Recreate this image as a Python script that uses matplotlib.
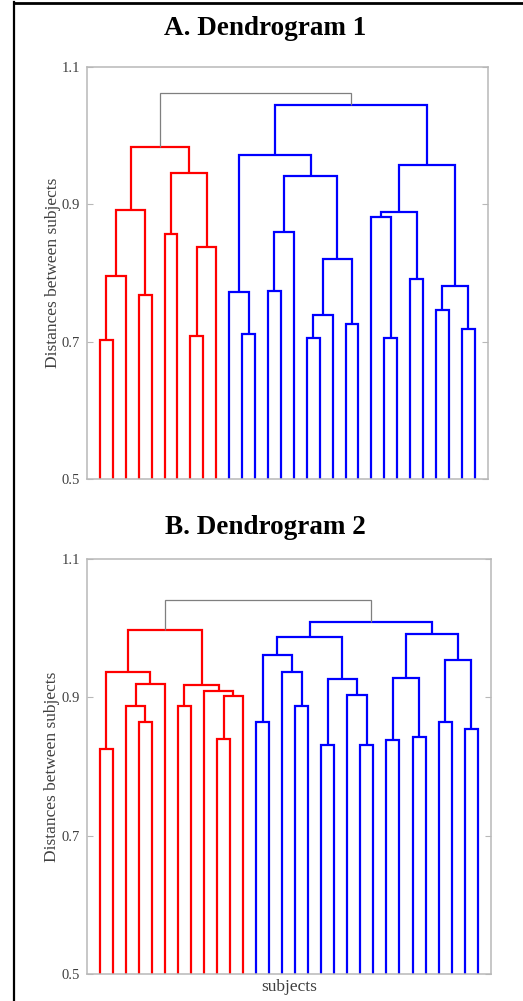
import matplotlib
matplotlib.use("Agg")
import matplotlib.pyplot as plt
from matplotlib.lines import Line2D

# ---------------- data ----------------
n_leaves = 30

# Dendrogram A: merge i creates node 30+i from (left, right) at height
a_left = [0, 30, 3, 31, 5, 7, 35, 34, 33, 11, 10, 13, 41, 16, 43, 19, 44, 42, 40,
          22, 21, 24, 50, 26, 28, 53, 52, 48, 38]
a_right = [1, 2, 4, 32, 6, 8, 9, 36, 37, 12, 39, 14, 15, 17, 18, 20, 45, 46, 47,
           23, 49, 25, 51, 27, 29, 54, 55, 56, 57]
a_height = [0.703, 0.795, 0.768, 0.892, 0.856, 0.708, 0.838, 0.946, 0.983,
            0.712, 0.772, 0.774, 0.860, 0.706, 0.739, 0.726, 0.820, 0.941, 0.971,
            0.706, 0.882, 0.792, 0.889, 0.746, 0.719, 0.781, 0.957, 1.044, 1.062]
a_n_red = 10

# Dendrogram B
b_left = [0, 3, 2, 32, 30, 6, 9, 36, 8, 35, 34, 12, 15, 14, 41, 17, 20, 19, 45,
          44, 22, 24, 50, 26, 28, 53, 52, 49, 40]
b_right = [1, 4, 31, 5, 33, 7, 10, 11, 37, 38, 39, 13, 16, 42, 43, 18, 21, 46, 47,
           48, 23, 25, 51, 27, 29, 54, 55, 56, 57]
b_height = [0.826, 0.864, 0.887, 0.919, 0.937, 0.887, 0.840, 0.902, 0.910, 0.918,
            0.998, 0.865, 0.887, 0.937, 0.961, 0.831, 0.831, 0.903, 0.926, 0.987,
            0.838, 0.843, 0.928, 0.865, 0.854, 0.954, 0.992, 1.009, 1.041]
b_n_red = 12

titles = ["A. Dendrogram 1", "B. Dendrogram 2"]
y_ticks = [0.5, 0.7, 0.9, 1.1]
y_tick_labels = ["0.5", "0.7", "0.9", "1.1"]
y_label = "Distances between subjects"
x_label = "subjects"

# ---------------- style ----------------
W, H = 523, 1001
SERIF = ["Liberation Serif", "DejaVu Serif"]
RED, BLUE, GRAY = "#ff0000", "#0000ff", "#7f7f7f"
SPINE = "#b8b8b8"
TXT = "#404040"

fig = plt.figure(figsize=(W / 100, H / 100), dpi=100)
fig.patch.set_facecolor("white")


def px_axes(left, top, right, bottom):
    return fig.add_axes([left / W, 1 - bottom / H, (right - left) / W, (bottom - top) / H])


def draw_dendro(ax, left, right, height, n_red):
    xs = {i: float(i + 1) for i in range(n_leaves)}
    ys = {i: 0.0 for i in range(n_leaves)}
    members = {i: {i} for i in range(n_leaves)}
    for k, (l, r, h) in enumerate(zip(left, right, height)):
        node = n_leaves + k
        xs[node] = (xs[l] + xs[r]) / 2
        ys[node] = h
        members[node] = members[l] | members[r]
        m = members[node]
        if max(m) < n_red:
            c, lw = RED, 1.6
        elif min(m) >= n_red:
            c, lw = BLUE, 1.6
        else:
            c, lw = GRAY, 0.9
        ax.plot([xs[l], xs[l], xs[r], xs[r]], [ys[l], h, h, ys[r]],
                color=c, lw=lw, solid_joinstyle="miter", solid_capstyle="butt", zorder=2)


def style_axes(ax):
    ax.set_xlim(0, n_leaves + 1)
    ax.set_ylim(0.5, 1.1)
    ax.set_xticks([])
    ax.set_yticks(y_ticks)
    ax.set_yticklabels(y_tick_labels)
    for s in ax.spines.values():
        s.set_color(SPINE)
        s.set_linewidth(1.1)
        s.set_zorder(3)
    ax.tick_params(axis="y", direction="in", length=4, width=0.8, color=SPINE,
                   labelcolor=TXT, labelsize=10.5, pad=5, right=True)
    for t in ax.get_yticklabels():
        t.set_fontfamily(SERIF)
    ax.set_ylabel(y_label, fontsize=12.5, color=TXT, family=SERIF)
    ax.yaxis.set_label_coords(-0.066, 0.5)


ax1 = px_axes(87, 66.7, 487.7, 479.3)
draw_dendro(ax1, a_left, a_right, a_height, a_n_red)
style_axes(ax1)

ax2 = px_axes(86.7, 559, 490.7, 974.3)
draw_dendro(ax2, b_left, b_right, b_height, b_n_red)
style_axes(ax2)
ax2.set_xlabel(x_label, fontsize=12.5, color=TXT, family=SERIF)
ax2.xaxis.set_label_coords(0.5, -0.012)

fig.text(265 / W, 1 - 35 / H, titles[0], ha="center", va="baseline",
         fontsize=19.5, fontweight="bold", family=SERIF, color="black")
fig.text(265 / W, 1 - 534.3 / H, titles[1], ha="center", va="baseline",
         fontsize=19.5, fontweight="bold", family=SERIF, color="black")

# outer frame (top and left edges visible)
fig.add_artist(Line2D([13.5 / W, 1.0], [1 - 3 / H, 1 - 3 / H], transform=fig.transFigure,
                      color="black", lw=2.0))
fig.add_artist(Line2D([14 / W, 14 / W], [0.0, 1 - 2 / H], transform=fig.transFigure,
                      color="black", lw=1.6))

fig.savefig("out.png", dpi=100, facecolor="white")
